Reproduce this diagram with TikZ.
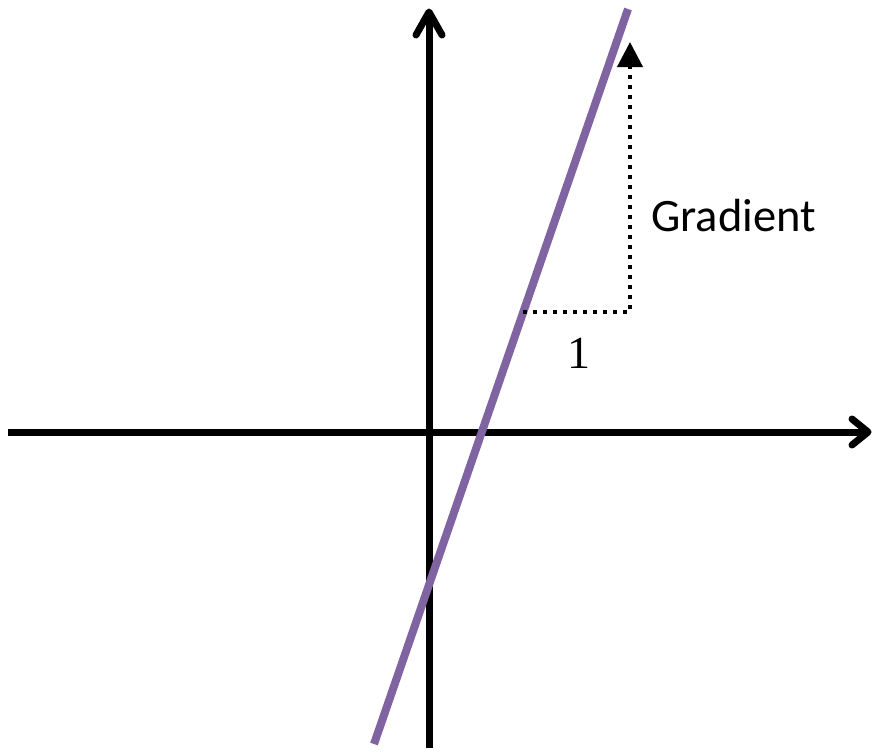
\documentclass[tikz,border=0pt]{standalone}
\usepackage{fontspec}
\newfontfamily\carlito{Carlito}
\newfontfamily\libserif{Liberation Serif}
\usetikzlibrary{arrows.meta}
\definecolor{linepurple}{HTML}{8064A2}
\tikzset{
  axis/.style={line width=7pt, black},
  chev/.style={line width=7pt, black, line cap=round, line join=round},
  fn/.style={line width=8pt, linepurple},
  dots/.style={line width=4pt, black, dash pattern=on 4pt off 6pt, -{Triangle[length=25pt,width=25pt]}}
}
\begin{document}
\begin{tikzpicture}[x=1pt,y=-1pt]
\useasboundingbox (0,0) rectangle (875,753);
% axes
\coordinate (xl) at (8,432);
\coordinate (xr) at (866,432);
\coordinate (yb) at (429,748);
\coordinate (yt) at (429,14);
\draw[axis] (xl) -- (xr);
\draw[axis] (yb) -- (yt);
\draw[chev] (852,419) -- (868,432) -- (852,445);
\draw[chev] (416,35) -- (429,12) -- (442,35);
% function line
\coordinate (fa) at (374,744);
\coordinate (fb) at (628,9);
\draw[fn] (fa) -- (fb);
% gradient triangle
\coordinate (ds) at (523,312);
\coordinate (de) at (630,42);
\draw[dots] (ds) -| (de);
\node[anchor=base west, inner sep=0pt, font=\carlito\fontsize{46.5}{50}\selectfont] (grad) at (651,231) {Gradient};
\node[anchor=base, inner sep=0pt, font=\libserif\fontsize{46}{50}\selectfont] (one) at (579,368) {1};
\end{tikzpicture}
\end{document}
